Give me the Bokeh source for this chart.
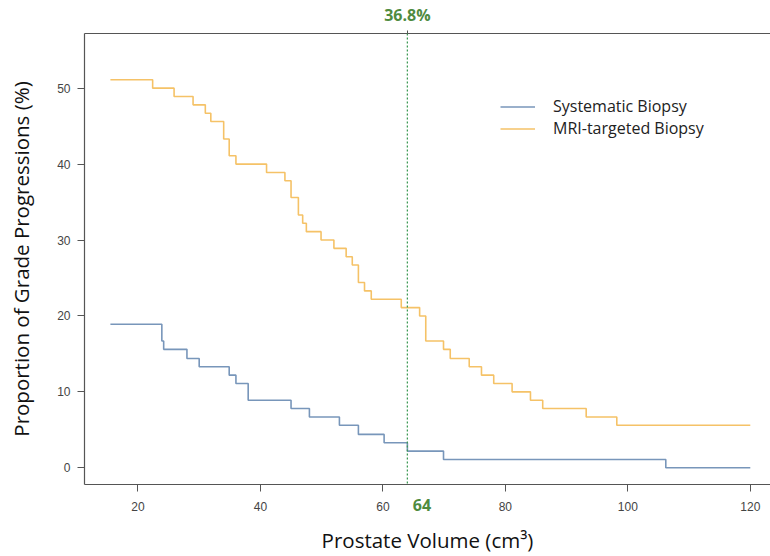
from bokeh.plotting import figure
from bokeh.models import Range1d, Span, Legend, LegendItem, FixedTicker, LinearAxis
from bokeh.embed import file_html
from bokeh.resources import INLINE

# ---- data ----
sys_x = [15.5, 23.9, 24.2, 28.0, 30.0, 34.9, 36.0, 38.0, 45.0, 48.0, 52.9, 56.0, 60.2, 64.0, 69.9, 106.2, 120.0]
sys_y = [18.9, 16.7, 15.6, 14.4, 13.3, 12.2, 11.1, 8.9, 7.8, 6.7, 5.6, 4.4, 3.3, 2.2, 1.1, 0.0, 0.0]

mri_x = [15.5, 22.4, 25.9, 29.0, 31.0, 31.9, 34.0, 34.9, 36.0, 41.0, 44.0, 45.0, 46.2, 46.9, 47.5,
         49.9, 52.0, 54.0, 55.0, 56.0, 57.0, 58.1, 63.0, 66.0, 67.0, 69.9, 71.0, 74.1, 76.1, 78.1,
         81.1, 84.1, 86.1, 93.2, 98.2, 120.0]
mri_y = [51.1, 50.0, 48.9, 47.8, 46.7, 45.6, 43.3, 41.1, 40.0, 38.9, 37.8, 35.6, 33.3, 32.2, 31.1,
         30.0, 28.9, 27.8, 26.7, 24.4, 23.3, 22.2, 21.1, 20.0, 16.7, 15.6, 14.4, 13.3, 12.2, 11.1,
         10.0, 8.9, 7.8, 6.7, 5.6, 5.6]

x_ticks = [20, 40, 60, 80, 100, 120]
y_ticks = [0, 10, 20, 30, 40, 50]
threshold = 64
threshold_text = "64"
threshold_pct = "36.8%"
series_names = ["Systematic Biopsy", "MRI-targeted Biopsy"]

BLUE = "#7896BA"
ORANGE = "#F5C267"
GREEN = "#4F8B3F"
AX = "#555555"

p = figure(width=770, height=556, output_backend="svg", toolbar_location=None,
           x_range=Range1d(11.27, 123.3), y_range=Range1d(-2.2, 57.2),
           min_border_left=84, min_border_right=0, min_border_top=32, min_border_bottom=72)
p.xgrid.visible = False
p.ygrid.visible = False
p.outline_line_color = None
p.background_fill_color = "white"
p.border_fill_color = "white"

r_sys = p.step(sys_x, sys_y, mode="after", line_color=BLUE, line_width=1.6)
r_mri = p.step(mri_x, mri_y, mode="after", line_color=ORANGE, line_width=1.6)

p.add_layout(Span(location=threshold, dimension="height", line_color="#3E9A55",
                  line_dash="2 2", line_width=1.3))

for ax in (p.xaxis[0], p.yaxis[0]):
    ax.axis_line_color = AX
    ax.axis_line_width = 1.2
    ax.major_tick_line_color = AX
    ax.major_tick_in = 0
    ax.major_tick_out = 7
    ax.minor_tick_line_color = None
    ax.major_label_text_font = "Liberation Sans"
    ax.major_label_text_font_size = "12px"
    ax.major_label_text_color = "#444444"
    ax.axis_label_text_font = "Open Sans"
    ax.axis_label_text_font_size = "20.5px"
    ax.axis_label_text_font_style = "normal"
    ax.axis_label_text_color = "#111111"

p.xaxis.ticker = FixedTicker(ticks=x_ticks)
p.yaxis.ticker = FixedTicker(ticks=y_ticks)
p.yaxis.major_label_orientation = "horizontal"
p.xaxis.major_label_standoff = 10
p.yaxis.major_label_standoff = 7
p.xaxis.axis_label = "Prostate Volume (cm³)"
p.yaxis.axis_label = "Proportion of Grade Progressions (%)"
p.xaxis.axis_label_standoff = 12
p.yaxis.axis_label_standoff = 19

# top frame line with the percentage marker at the threshold
top_axis = LinearAxis(ticker=FixedTicker(ticks=[threshold]),
                      major_label_overrides={threshold: threshold_pct},
                      axis_line_color=AX, axis_line_width=1.2,
                      major_tick_line_color=AX, major_tick_in=0, major_tick_out=3,
                      minor_tick_line_color=None, major_label_standoff=5,
                      major_label_text_font="Open Sans", major_label_text_font_size="16px",
                      major_label_text_font_style="bold", major_label_text_color=GREEN)
p.add_layout(top_axis, "above")

# threshold value under the x axis (shifted right of the line with leading no-break spaces)
thr_axis = LinearAxis(ticker=FixedTicker(ticks=[threshold]),
                      major_label_overrides={threshold: "\u00a0" * 7 + threshold_text},
                      axis_line_color=None, major_tick_line_color=None,
                      minor_tick_line_color=None, major_label_standoff=-69,
                      major_label_text_font="Open Sans", major_label_text_font_size="16px",
                      major_label_text_font_style="bold", major_label_text_color=GREEN)
p.add_layout(thr_axis, "below")

legend = Legend(items=[LegendItem(label=series_names[0], renderers=[r_sys]),
                       LegendItem(label=series_names[1], renderers=[r_mri])],
                location=(416, 345), padding=0, margin=0, spacing=0,
                glyph_width=35, glyph_height=21, label_height=21, label_standoff=18,
                label_text_font="Open Sans", label_text_font_size="16px",
                label_text_color="#222222", border_line_alpha=0, background_fill_alpha=0)
p.add_layout(legend)

open("out.html", "w").write(file_html(p, INLINE))
